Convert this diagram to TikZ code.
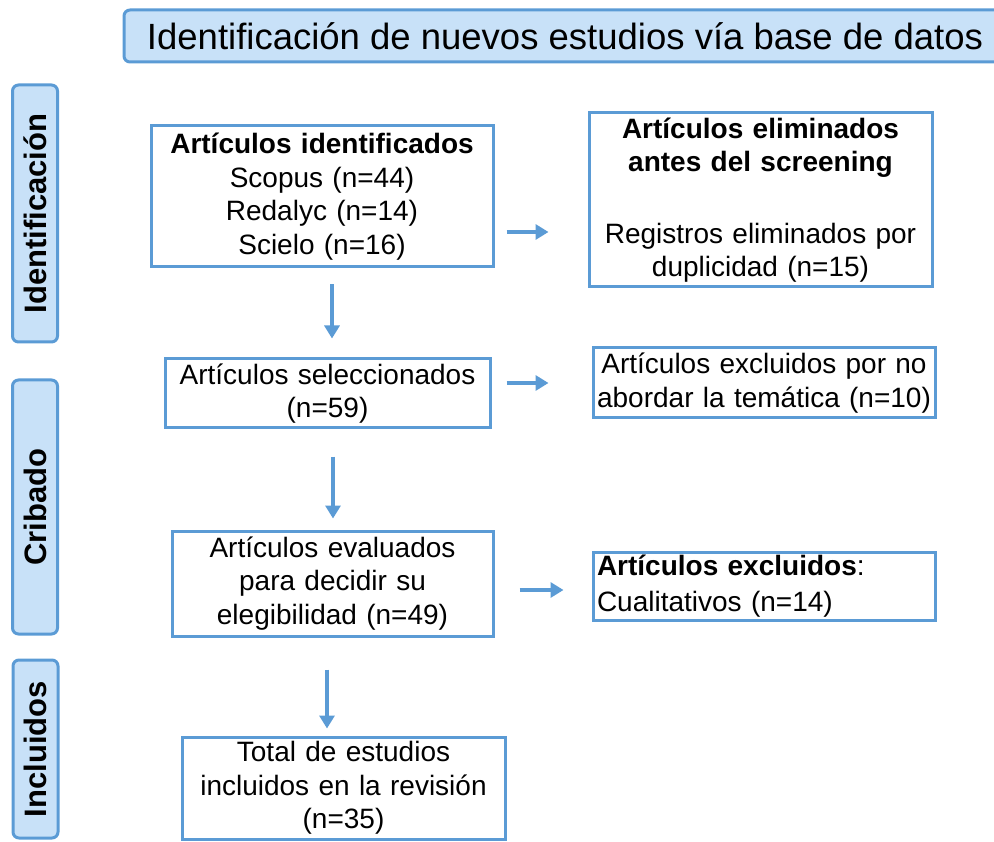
\documentclass[tikz,border=0pt]{standalone}
\usepackage{fontspec}
\setmainfont{Liberation Sans}
\usepackage{xcolor}
\usetikzlibrary{arrows.meta}
\definecolor{prismaborde}{RGB}{91,155,213}
\definecolor{prismafondo}{RGB}{200,225,248}

\begin{document}
\begin{tikzpicture}[x=1pt,y=-1pt,
  caja/.style={draw=prismaborde,line width=3pt,fill=white,inner sep=0pt,
    align=center,font=\fontsize{28}{33.5}\selectfont},
  fase/.style={draw=prismaborde,line width=3pt,fill=prismafondo,rounded corners=6pt,
    rotate=90,inner sep=0pt,minimum height=45pt,font=\bfseries\fontsize{31}{36}\selectfont},
  flecha/.style={draw=prismaborde,line width=4pt,-{Triangle[length=13pt,width=15pt]}}]
\useasboundingbox (0,0) rectangle (994,842);
% titulo
\node[draw=prismaborde,line width=3pt,fill=prismafondo,rounded corners=6pt,
  minimum width=882pt,minimum height=52pt,inner sep=0pt,
  font=\fontsize{36.5}{40}\selectfont] (titulo) at (565,36) {Identificación de nuevos estudios vía base de datos};
% fases
\node[fase,minimum width=257pt] (fid) at (35,213.5) {Identificación};
\node[fase,minimum width=254pt] (fcr) at (35,507) {Cribado};
\node[fase,minimum width=178pt] (fin) at (35.5,749) {Incluidos};
% cajas
\node[caja,minimum width=342pt,minimum height=141pt,text width=330pt] (ident) at (322,196.5)
  {\textbf{Artículos identificados}\\Scopus (n=44)\\Redalyc (n=14)\\Scielo (n=16)};
\node[caja,minimum width=343pt,minimum height=174pt,text width=335pt] (elim) at (760.5,200)
  {\textbf{Artículos eliminados}\\\textbf{antes del screening}\\[38pt]Registros eliminados por\\duplicidad (n=15)};
\node[caja,minimum width=325pt,minimum height=69pt,text width=318pt] (selec) at (327.5,393.5)
  {Artículos seleccionados\\(n=59)};
\node[caja,minimum width=342pt,minimum height=70pt,text width=338pt] (excl) at (764,383)
  {Artículos excluidos por no\\abordar la temática (n=10)};
\node[caja,minimum width=321pt,minimum height=105pt,text width=312pt] (eval) at (332.5,583.5)
  {Artículos evaluados\\para decidir su\\elegibilidad (n=49)};
\node[caja,minimum width=342pt,minimum height=68pt,text width=334pt,align=left,
  font=\fontsize{28}{36}\selectfont] (cual) at (764,586)
  {\textbf{Artículos excluidos}:\\Cualitativos (n=14)};
\node[caja,minimum width=323pt,minimum height=102pt,text width=316pt] (total) at (343.5,788)
  {Total de estudios\\incluidos en la revisión\\(n=35)};
% flechas
\draw[flecha,shorten <=12pt,shorten >=39pt] (ident.east |- 0,232) -- (elim.west |- 0,232);
\draw[flecha,shorten <=15pt,shorten >=43pt] (selec.east |- 0,383) -- (excl.west |- 0,383);
\draw[flecha,shorten <=25pt,shorten >=28pt] (eval.east |- 0,590) -- (cual.west |- 0,590);
\draw[flecha,shorten <=16pt,shorten >=19pt] (332,0 |- ident.south) -- (332,0 |- selec.north);
\draw[flecha,shorten <=27pt,shorten >=11pt] (333,0 |- selec.south) -- (333,0 |- eval.north);
\draw[flecha,shorten <=32pt,shorten >=7pt] (327,0 |- eval.south) -- (327,0 |- total.north);
\end{tikzpicture}
\end{document}
